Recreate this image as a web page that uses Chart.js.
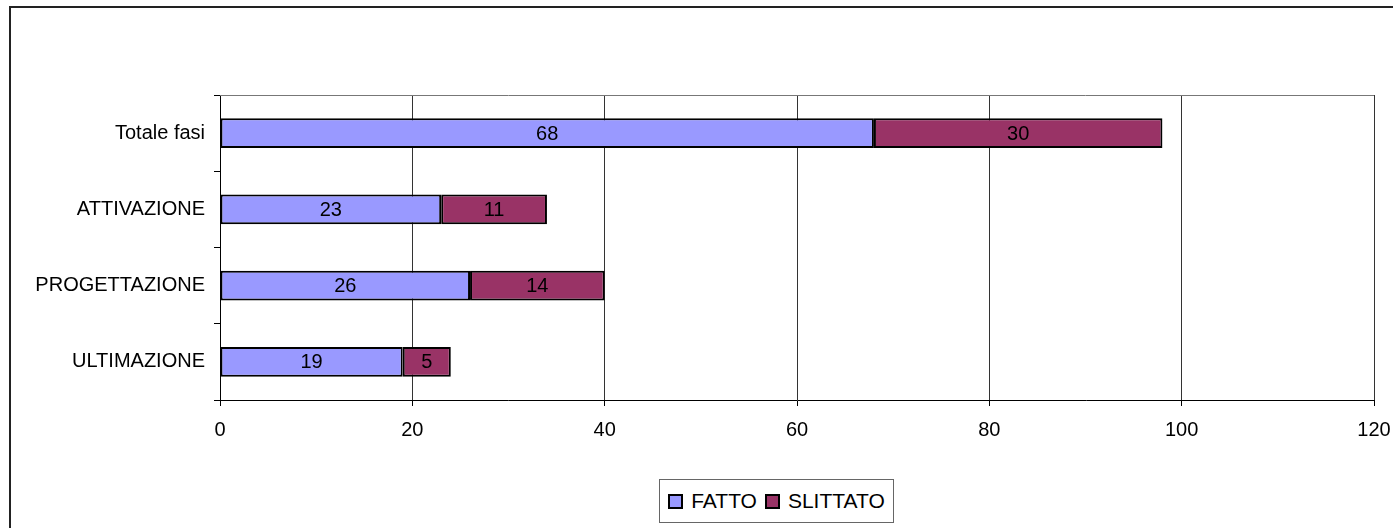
<html lang="it">
<head>
<meta charset="UTF-8">
<title>Fasi</title>
<script src="https://cdn.jsdelivr.net/npm/chart.js"></script>
<style>
  body { margin: 0; overflow: hidden; background: #fff; font-family: 'Liberation Sans', Arial, sans-serif; }
  #wrap { position: relative; width: 1393px; height: 528px; }
  #frame { position: absolute; left: 9px; top: 6px; width: 3000px; height: 3000px; border-left: 2px solid #222; border-top: 2px solid #222; }
  #chart { position: absolute; left: 0; top: 0; }
  #legend { position: absolute; left: 659px; top: 479px; width: 233px; height: 42px; border: 1px solid #666;
            display: flex; align-items: center; justify-content: center; font-size: 21px; color: #000; background: #fff; }
  #legend span.sw { display: inline-block; width: 11px; height: 11px; border: 2px solid #000; margin: 0 8px 0 0; }
  #legend span.item { display: inline-flex; align-items: center; margin: 0 4px; }
</style>
</head>
<body>
<div id="wrap">
  <div id="frame"></div>
  <canvas id="chart" width="1393" height="528"></canvas>
  <div id="legend"></div>
</div>
<script>
  const categories = ['Totale fasi', 'ATTIVAZIONE', 'PROGETTAZIONE', 'ULTIMAZIONE'];
  const fatto = [68, 23, 26, 19];
  const slittato = [30, 11, 14, 5];
  const xTicks = [0, 20, 40, 60, 80, 100, 120];

  const FONT = "'Liberation Sans', Arial, sans-serif";

  // frame around the plot area
  const plotBorder = {
    id: 'plotBorder',
    beforeDatasetsDraw(chart) {
      const { ctx, chartArea: a } = chart;
      ctx.save();
      ctx.strokeStyle = '#777';
      ctx.lineWidth = 1;
      ctx.beginPath();
      ctx.moveTo(a.left, a.top + 0.5);
      ctx.lineTo(a.right, a.top + 0.5);
      ctx.stroke();
      ctx.restore();
    }
  };

  // value labels centred in each segment
  const segLabels = {
    id: 'segLabels',
    afterDatasetsDraw(chart) {
      const ctx = chart.ctx;
      ctx.save();
      ctx.font = '20px ' + FONT;
      ctx.fillStyle = '#000';
      ctx.textAlign = 'center';
      ctx.textBaseline = 'middle';
      chart.data.datasets.forEach((ds, i) => {
        chart.getDatasetMeta(i).data.forEach((el, j) => {
          ctx.fillText(ds.data[j], (el.x + el.base) / 2, el.y + 1);
        });
      });
      ctx.restore();
    }
  };

  const chart = new Chart(document.getElementById('chart'), {
    type: 'bar',
    data: {
      labels: categories,
      datasets: [
        { label: 'FATTO', data: fatto, backgroundColor: '#9999FF', borderColor: '#000', borderWidth: 2,
          borderSkipped: false, barPercentage: 0.39, categoryPercentage: 1 },
        { label: 'SLITTATO', data: slittato, backgroundColor: '#993366', borderColor: '#000', borderWidth: 2,
          borderSkipped: false, barPercentage: 0.39, categoryPercentage: 1 }
      ]
    },
    options: {
      indexAxis: 'y',
      responsive: false,
      animation: false,
      layout: { padding: { left: 0, top: 95, right: 19, bottom: 0 } },
      plugins: { legend: { display: false }, tooltip: { enabled: false } },
      scales: {
        x: {
          stacked: true,
          min: 0, max: 120,
          afterBuildTicks: s => { s.ticks = xTicks.map(v => ({ value: v })); },
          afterFit: s => { s.height = 128; s.paddingLeft = 0; s.paddingRight = 0; },
          grid: { color: '#333', lineWidth: 1, tickLength: 6, tickColor: '#000' },
          border: { color: '#000', width: 1 },
          ticks: { color: '#000', font: { family: FONT, size: 20 }, padding: 12, maxRotation: 0 }
        },
        y: {
          stacked: true,
          afterFit: s => { s.width = 220; },
          grid: { offset: true, drawOnChartArea: false, tickLength: 6, tickColor: '#000' },
          border: { color: '#000', width: 1 },
          ticks: { color: '#000', font: { family: FONT, size: 20 }, padding: 9 }
        }
      }
    },
    plugins: [plotBorder, segLabels]
  });

  // html legend from the datasets
  const legend = document.getElementById('legend');
  chart.data.datasets.forEach(ds => {
    const item = document.createElement('span');
    item.className = 'item';
    item.innerHTML = '<span class="sw" style="background:' + ds.backgroundColor + '"></span>' + ds.label;
    legend.appendChild(item);
  });
</script>
</body>
</html>
